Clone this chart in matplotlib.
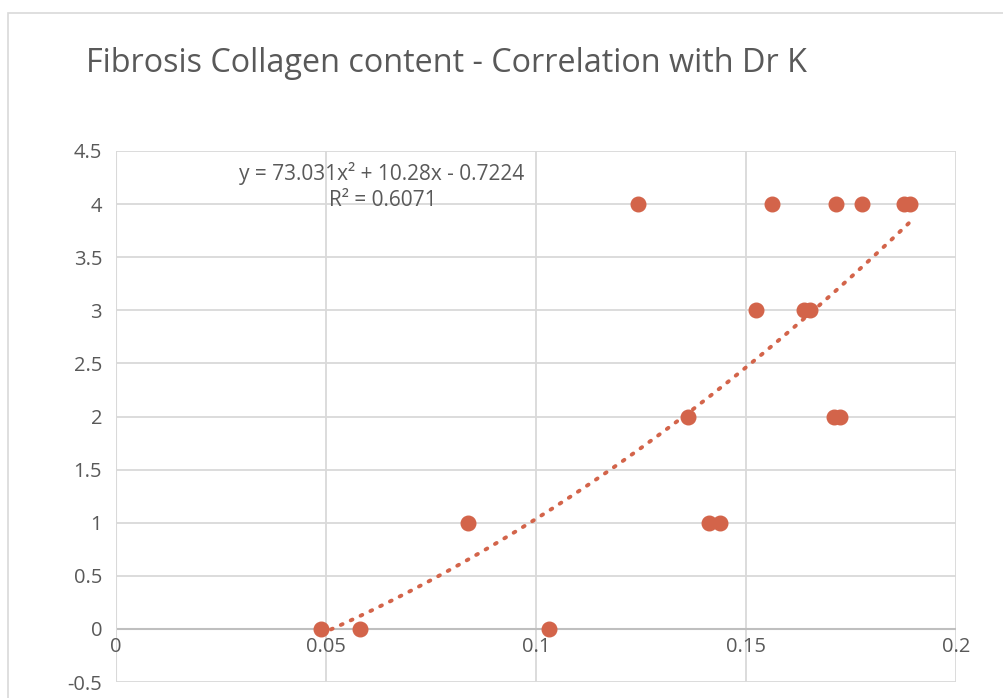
import matplotlib.pyplot as plt
import numpy as np
from matplotlib.patches import Rectangle

plt.rcParams['font.family'] = ['Open Sans', 'DejaVu Sans']

# collagen content vs Dr K score
collagen = [0.0488, 0.0581, 0.0838, 0.1031, 0.1243, 0.1362, 0.1412, 0.1438,
            0.1524, 0.1562, 0.1638, 0.1652, 0.1714, 0.1710, 0.1724, 0.1776,
            0.1876, 0.1890]
score = [0, 0, 1, 0, 4, 2, 1, 1, 3, 4, 3, 3, 4, 2, 2, 4, 4, 4]

# trendline coefficients (as reported on the chart)
poly = [73.031, 10.28, -0.7224]
eq_text = "y = 73.031x² + 10.28x - 0.7224"
r2_text = "R² = 0.6071"

xticks = [0, 0.05, 0.1, 0.15, 0.2]
xlabels = ['0', '0.05', '0.1', '0.15', '0.2']
yticks = [-0.5, 0, 0.5, 1, 1.5, 2, 2.5, 3, 3.5, 4, 4.5]
ylabels = ['-0.5', '0', '0.5', '1', '1.5', '2', '2.5', '3', '3.5', '4', '4.5']

dot = '#d3644a'
grid = '#d9d9d9'
txt = '#595959'

fig = plt.figure(figsize=(10.04, 6.98), dpi=100)
fig.patches.append(Rectangle((8/1004, -0.1), 1.2, 1.1 - 13/698,
                             transform=fig.transFigure, fill=False,
                             edgecolor=grid, linewidth=1.2))
ax = fig.add_axes([116/1004, 16/698, 840/1004, 531/698])

x = np.array(collagen)
xs = np.linspace(x.min(), x.max(), 200)
ax.plot(xs, np.polyval(poly, xs), color=dot, linestyle=(0, (0.5, 2.3)),
        linewidth=2.8, dash_capstyle='round', zorder=2)
ax.plot(collagen, score, 'o', color=dot, markersize=10.5, zorder=3)

ax.set_xlim(0, 0.2)
ax.set_ylim(-0.5, 4.5)
ax.set_xticks(xticks)
ax.set_yticks(yticks)
ax.set_yticklabels(ylabels, fontsize=14.5, color=txt)
ax.set_xticklabels([])
for xv, lab in zip(xticks, xlabels):
    ax.text(xv, -0.08, lab, ha='center', va='top', fontsize=14.5, color=txt)
ax.tick_params(length=0, pad=10)
ax.grid(True, color=grid, linewidth=1.3)
ax.set_axisbelow(True)
for s in ['top', 'right', 'bottom', 'left']:
    ax.spines[s].set_visible(False)
ax.axhline(0, color='#bfbfbf', linewidth=1.5, zorder=1)
ax.axvline(0, color=grid, linewidth=1.5, zorder=1)

ax.text(0.0633, 4.29, eq_text, ha='center', va='center', fontsize=15, color=txt)
ax.text(0.0635, 4.03, r2_text, ha='center', va='center', fontsize=15, color=txt)

fig.text(86/1004, 1 - 63/698, "Fibrosis Collagen content - Correlation with Dr K",
         ha='left', va='center', fontsize=23.3, color=txt)

fig.savefig('out.png', dpi=100)
